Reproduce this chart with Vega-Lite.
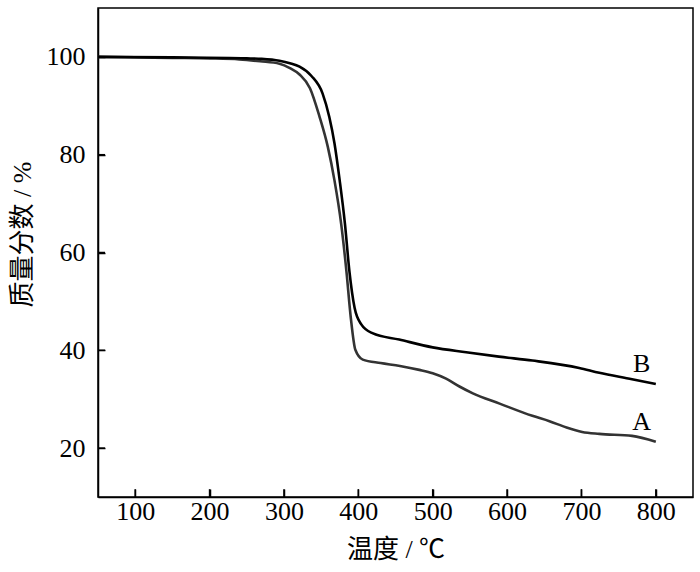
{
  "$schema": "https://vega.github.io/schema/vega-lite/v6.json",
  "width": 595,
  "height": 489,
  "autosize": {"type": "none"},
  "padding": {"left": 98, "top": 8, "right": 7, "bottom": 75},
  "background": "white",
  "config": {
    "view": {"stroke": "black", "strokeWidth": 1.5},
    "font": "Liberation Serif"
  },
  "datasets": {
    "xticks": [{"t": 100}, {"t": 200}, {"t": 300}, {"t": 400}, {"t": 500}, {"t": 600}, {"t": 700}, {"t": 800}],
    "yticks": [{"w": 20}, {"w": 40}, {"w": 60}, {"w": 80}, {"w": 100}],
    "labels": [{"t": 781, "w": 37.3, "label": "B"}, {"t": 781, "w": 25.4, "label": "A"}]
  },
  "data": {
    "values": [
      {"t": 50, "w": 100.0, "s": "A"},
      {"t": 100, "w": 99.9, "s": "A"},
      {"t": 150, "w": 99.8, "s": "A"},
      {"t": 200, "w": 99.7, "s": "A"},
      {"t": 240, "w": 99.5, "s": "A"},
      {"t": 268, "w": 99.1, "s": "A"},
      {"t": 294, "w": 98.6, "s": "A"},
      {"t": 308, "w": 97.7, "s": "A"},
      {"t": 321, "w": 96.4, "s": "A"},
      {"t": 335, "w": 93.6, "s": "A"},
      {"t": 348, "w": 87.7, "s": "A"},
      {"t": 359, "w": 81.6, "s": "A"},
      {"t": 368, "w": 74.7, "s": "A"},
      {"t": 377, "w": 65.8, "s": "A"},
      {"t": 384, "w": 56.2, "s": "A"},
      {"t": 390, "w": 46.5, "s": "A"},
      {"t": 396, "w": 40.1, "s": "A"},
      {"t": 406, "w": 38.1, "s": "A"},
      {"t": 430, "w": 37.4, "s": "A"},
      {"t": 456, "w": 36.8, "s": "A"},
      {"t": 482, "w": 36.0, "s": "A"},
      {"t": 500, "w": 35.3, "s": "A"},
      {"t": 518, "w": 34.2, "s": "A"},
      {"t": 536, "w": 32.6, "s": "A"},
      {"t": 554, "w": 31.2, "s": "A"},
      {"t": 590, "w": 29.1, "s": "A"},
      {"t": 634, "w": 26.6, "s": "A"},
      {"t": 657, "w": 25.5, "s": "A"},
      {"t": 680, "w": 24.2, "s": "A"},
      {"t": 701, "w": 23.3, "s": "A"},
      {"t": 724, "w": 22.9, "s": "A"},
      {"t": 768, "w": 22.5, "s": "A"},
      {"t": 800, "w": 21.3, "s": "A"},
      {"t": 50, "w": 100.0, "s": "B"},
      {"t": 150, "w": 99.9, "s": "B"},
      {"t": 250, "w": 99.7, "s": "B"},
      {"t": 270, "w": 99.6, "s": "B"},
      {"t": 294, "w": 99.2, "s": "B"},
      {"t": 308, "w": 98.7, "s": "B"},
      {"t": 321, "w": 98.0, "s": "B"},
      {"t": 337, "w": 96.1, "s": "B"},
      {"t": 352, "w": 92.5, "s": "B"},
      {"t": 361, "w": 87.7, "s": "B"},
      {"t": 368, "w": 82.3, "s": "B"},
      {"t": 375, "w": 74.7, "s": "B"},
      {"t": 382, "w": 65.9, "s": "B"},
      {"t": 388, "w": 56.2, "s": "B"},
      {"t": 395, "w": 48.7, "s": "B"},
      {"t": 404, "w": 45.3, "s": "B"},
      {"t": 419, "w": 43.5, "s": "B"},
      {"t": 455, "w": 42.2, "s": "B"},
      {"t": 500, "w": 40.6, "s": "B"},
      {"t": 545, "w": 39.6, "s": "B"},
      {"t": 589, "w": 38.7, "s": "B"},
      {"t": 634, "w": 37.9, "s": "B"},
      {"t": 697, "w": 36.4, "s": "B"},
      {"t": 724, "w": 35.4, "s": "B"},
      {"t": 768, "w": 34.1, "s": "B"},
      {"t": 800, "w": 33.1, "s": "B"}
    ]
  },
  "layer": [
    {
      "mark": {"type": "line", "interpolate": "monotone", "strokeWidth": 2.6, "clip": true},
      "encoding": {
        "x": {
          "field": "t", "type": "quantitative",
          "scale": {"domain": [50, 850], "nice": false, "zero": false},
          "axis": {
            "values": [100, 200, 300, 400, 500, 600, 700, 800],
            "grid": false, "domainColor": "black", "domainWidth": 1.5,
            "ticks": true, "tickColor": "black", "tickOpacity": 1, "tickWidth": 1.5, "tickSize": -8,
            "labelColor": "black", "labelFont": "Liberation Serif", "labelFontSize": 26, "labelPadding": 9,
            "title": "温度 / ℃", "titleColor": "black", "titleFont": "Liberation Serif, Noto Sans CJK SC", "titleFontSize": 26, "titleFontWeight": "normal", "titlePadding": 12
          }
        },
        "y": {
          "field": "w", "type": "quantitative",
          "scale": {"domain": [10, 110], "nice": false, "zero": false},
          "axis": {
            "values": [20, 40, 60, 80, 100],
            "grid": false, "domainColor": "black", "domainWidth": 1.5,
            "ticks": true, "tickColor": "black", "tickOpacity": 1, "tickWidth": 1.5, "tickSize": -7,
            "labelColor": "black", "labelFont": "Liberation Serif", "labelFontSize": 26, "labelPadding": 20,
            "title": "质量分数 / %", "titleColor": "black", "titleFont": "Liberation Serif, Noto Sans CJK SC", "titleFontSize": 26, "titleFontWeight": "normal",
            "titleAngle": -90, "titleAlign": "center", "titleBaseline": "middle", "titleX": -76, "titleY": 226
          }
        },
        "color": {
          "field": "s", "type": "nominal",
          "scale": {"domain": ["A", "B"], "range": ["#333333", "#000000"]},
          "legend": null
        }
      }
    },
    {
      "data": {"name": "xticks"},
      "mark": {"type": "rule", "strokeWidth": 1.5, "color": "black"},
      "encoding": {
        "x": {"field": "t", "type": "quantitative"},
        "y": {"datum": 10, "type": "quantitative"},
        "y2": {"datum": 11.6}
      }
    },
    {
      "data": {"name": "yticks"},
      "mark": {"type": "rule", "strokeWidth": 1.5, "color": "black"},
      "encoding": {
        "y": {"field": "w", "type": "quantitative"},
        "x": {"datum": 50, "type": "quantitative"},
        "x2": {"datum": 59.4}
      }
    },
    {
      "data": {"name": "labels"},
      "mark": {"type": "text", "font": "Liberation Serif", "fontSize": 26, "color": "black", "baseline": "middle", "align": "center"},
      "encoding": {
        "x": {"field": "t", "type": "quantitative"},
        "y": {"field": "w", "type": "quantitative"},
        "text": {"field": "label"}
      }
    }
  ]
}
